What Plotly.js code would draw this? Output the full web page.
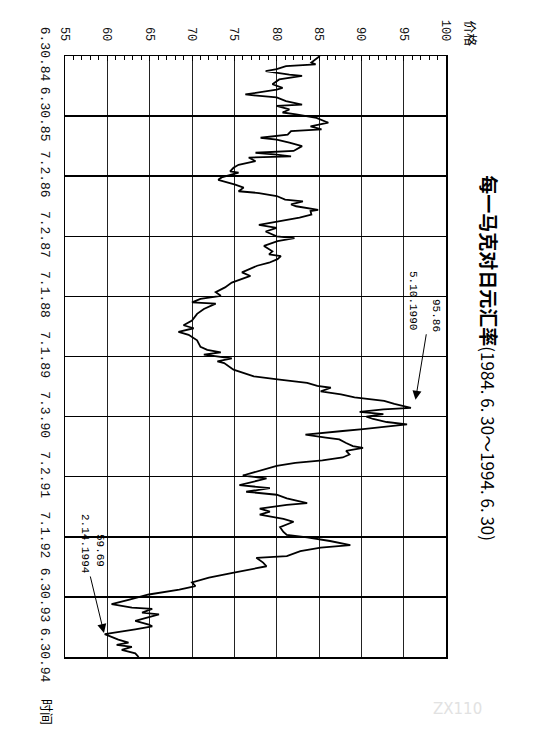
<!DOCTYPE html>
<html>
<head>
<meta charset="utf-8">
<script src="https://cdn.plot.ly/plotly-3.0.1.min.js"></script>
<style>
html,body{margin:0;padding:0;background:#fff;}
#chart{width:534px;height:741px;}
</style>
</head>
<body>
<div id="chart"></div>
<script>
// time (decimal years) and DEM/JPY price
const years = [
  1984.50,1984.61,1984.64,1984.67,1984.72,1984.75,1984.81,1984.83,1984.89,1984.97,
  1985.03,1985.06,1985.14,1985.19,1985.25,1985.31,1985.33,1985.39,1985.44,1985.47,
  1985.53,1985.61,1985.67,1985.72,1985.75,1985.81,1985.86,1985.89,1985.94,1986.00,
  1986.08,1986.11,1986.14,1986.17,1986.19,1986.25,1986.31,1986.36,1986.42,1986.44,
  1986.52,1986.56,1986.64,1986.69,1986.75,1986.78,1986.83,1986.89,1986.92,1986.97,
  1987.00,1987.06,1987.08,1987.14,1987.19,1987.31,1987.36,1987.42,1987.50,
  1987.53,1987.58,1987.66,1987.75,1987.80,1987.83,1987.88,1987.94,1987.99,1988.10,
  1988.16,1988.27,1988.35,1988.43,1988.49,1988.54,1988.60,1988.62,1988.71,1988.79,
  1988.90,1988.98,1989.03,1989.09,1989.14,1989.23,1989.34,1989.39,1989.43,1989.47,
  1989.53,1989.58,1989.61,1989.72,1989.83,1989.88,1989.94,1989.99,1990.02,1990.08,
  1990.13,1990.18,1990.24,1990.29,1990.355,
  1990.38,1990.42,1990.46,1990.50,1990.54,1990.59,1990.63,1990.67,1990.71,1990.74,
  1990.80,1990.85,1990.88,1990.94,1990.99,1991.02,1991.07,1991.13,1991.18,1991.23,
  1991.27,1991.32,1991.37,1991.46,1991.48,1991.53,1991.64,1991.69,1991.75,1991.80,
  1991.86,1991.94,1991.97,1992.03,1992.08,1992.13,1992.20,1992.25,1992.34,1992.42,
  1992.47,1992.51,1992.57,1992.64,1992.68,1992.74,1992.82,1992.85,1992.93,1992.99,
  1993.05,1993.10,1993.18,1993.26,1993.32,1993.38,1993.46,1993.51,1993.55,1993.62,
  1993.68,1993.70,1993.76,1993.79,1993.85,1993.90,1993.96,1993.99,1994.04,1994.12,
  1994.21,1994.26,1994.30,1994.33,1994.38,1994.44,1994.50
];
const price = [
  85.1,84.1,84.6,81.1,80.0,78.7,81.5,83.0,80.3,79.5,
  80.7,80.0,76.3,80.0,81.1,83.0,80.0,81.5,80.7,82.3,
  84.7,86.1,84.0,85.3,81.7,81.3,78.1,80.0,81.5,83.0,
  82.0,77.5,80.0,81.7,76.7,77.5,75.5,74.9,74.5,75.5,
  73.5,73.1,75.1,76.1,75.5,77.9,80.0,81.0,83.1,81.7,
  82.3,84.9,84.0,84.1,82.7,77.9,80.0,78.7,80.0,
  82.1,80.1,78.5,79.5,79.1,80.5,80.1,79.1,77.7,75.9,
  76.9,74.7,73.9,72.8,73.4,71.0,70.0,72.8,71.4,70.6,
  70.0,69.0,70.2,68.4,69.6,70.6,71.0,71.8,73.4,71.4,
  74.7,73.0,73.8,74.9,77.3,80.1,83.6,84.8,86.4,85.2,
  87.6,89.2,92.7,93.9,95.86,
  92.6,89.8,92.6,90.6,91.4,93.0,95.4,93.0,90.2,87.8,
  83.4,85.8,87.4,88.2,89.0,90.2,88.2,88.6,87.8,85.4,
  82.2,80.0,78.8,76.4,76.0,78.8,75.6,79.2,76.4,80.0,
  81.2,83.6,81.2,78.0,79.2,78.0,80.8,82.0,80.4,80.8,
  81.2,83.6,86.3,88.7,85.2,82.8,81.2,77.6,78.4,78.8,
  76.4,74.8,72.0,70.0,70.4,68.5,64.9,63.7,62.5,60.5,
  62.9,65.3,64.1,66.1,64.5,63.3,64.9,65.3,63.3,59.69,
  61.3,62.5,61.1,62.9,61.7,63.3,63.7
];
const priceTicks = [55,60,65,70,75,80,85,90,95,100];
const timeTicks = [1984.5,1985.5,1986.5,1987.5,1988.5,1989.5,1990.5,1991.5,1992.5,1993.5,1994.5];
const timeLabels = ['6.30.84','6.30.85','7.2.86','7.2.87','7.1.88','7.1.89','7.3.90','7.2.91','7.1.92','6.30.93','6.30.94'];
const titleCn = '每一马克对日元汇率';
const titleRange = '(1984. 6. 30～1994. 6. 30)';
const highLabel = ['95.86','5.10.1990'];
const lowLabel = ['59.69','2.14.1994'];

const mono = 'Liberation Mono, DejaVu Sans Mono, monospace';
const cjk = 'Noto Sans CJK SC, sans-serif';

const trace = {
  x: price, y: years, type: 'scatter', mode: 'lines',
  line: {color: '#000', width: 1.8}, hoverinfo: 'skip'
};

const layout = {
  width: 534, height: 741,
  margin: {l: 65, r: 88, t: 56, b: 84},
  paper_bgcolor: '#fff', plot_bgcolor: '#fff',
  showlegend: false,
  font: {family: mono, color: '#000', size: 12},
  xaxis: {
    side: 'top', range: [55, 100], tickvals: priceTicks,
    ticktext: priceTicks.map(String),
    tickangle: 90, tickfont: {family: mono, size: 12, color: '#111'},
    ticks: 'inside', ticklen: 5, tickcolor: '#000', tickwidth: 1,
    minor: {dtick: 1, ticks: 'inside', ticklen: 4, tickcolor: '#000', tickwidth: 1, showgrid: false},
    showgrid: true, gridcolor: '#222', gridwidth: 1,
    showline: true, linecolor: '#000', linewidth: 1.5, mirror: true,
    zeroline: false, ticklabelstandoff: 9, fixedrange: true
  },
  yaxis: {
    range: [1994.5, 1984.5], tickvals: timeTicks, ticktext: timeLabels,
    tickangle: 90, tickfont: {family: mono, size: 13, color: '#111'},
    ticks: '', showgrid: true, gridcolor: '#000', gridwidth: 1.5,
    showline: true, linecolor: '#000', linewidth: 1.5, mirror: true,
    zeroline: false, ticklabelstandoff: 7, fixedrange: true
  },
  annotations: [
    {xref: 'paper', yref: 'paper', x: 1.1155, y: 0.497, showarrow: false,
     textangle: 90, xanchor: 'center', yanchor: 'middle',
     text: '<b>' + titleCn + '</b><span style="font-size:17px">' + titleRange + '</span>',
     font: {family: cjk, size: 19, color: '#000'}},
    {xref: 'paper', yref: 'paper', x: 1.068, y: 1.038, showarrow: false,
     textangle: 90, xanchor: 'center', yanchor: 'middle', text: '价格',
     font: {family: cjk, size: 13, color: '#000'}},
    {xref: 'paper', yref: 'paper', x: -0.047, y: -0.0915, showarrow: false,
     textangle: 90, xanchor: 'center', yanchor: 'middle', text: '时间',
     font: {family: cjk, size: 13, color: '#000'}},
    {xref: 'paper', yref: 'paper', x: 0.9738, y: 0.569, showarrow: false,
     textangle: 90, xanchor: 'center', yanchor: 'middle', text: highLabel[0],
     font: {family: mono, size: 11, color: '#000'}},
    {xref: 'paper', yref: 'paper', x: 0.9134, y: 0.594, showarrow: false,
     textangle: 90, xanchor: 'center', yanchor: 'middle', text: highLabel[1],
     font: {family: mono, size: 11, color: '#000'}},
    {xref: 'paper', yref: 'paper', x: 0.092, y: 0.178, showarrow: false,
     textangle: 90, xanchor: 'center', yanchor: 'middle', text: lowLabel[0],
     font: {family: mono, size: 11, color: '#000'}},
    {xref: 'paper', yref: 'paper', x: 0.0525, y: 0.188, showarrow: false,
     textangle: 90, xanchor: 'center', yanchor: 'middle', text: lowLabel[1],
     font: {family: mono, size: 11, color: '#000'}},
    {xref: 'x', yref: 'y', x: 96.4, y: 1990.22, text: '', showarrow: true,
     ax: 11, ay: -67, arrowhead: 2, arrowsize: 1.8, arrowwidth: 1, arrowcolor: '#000'},
    {xref: 'x', yref: 'y', x: 59.6, y: 1994.1, text: '', showarrow: true,
     ax: -14, ay: -58, arrowhead: 2, arrowsize: 1.8, arrowwidth: 1, arrowcolor: '#000'},
    {xref: 'paper', yref: 'paper', x: 1.10, y: -0.105, showarrow: false,
     text: 'ZX110', font: {family: 'DejaVu Sans', size: 15, color: '#e2e2e2'}}
  ]
};

Plotly.newPlot('chart', [trace], layout, {staticPlot: true, displayModeBar: false});
</script>
</body>
</html>
